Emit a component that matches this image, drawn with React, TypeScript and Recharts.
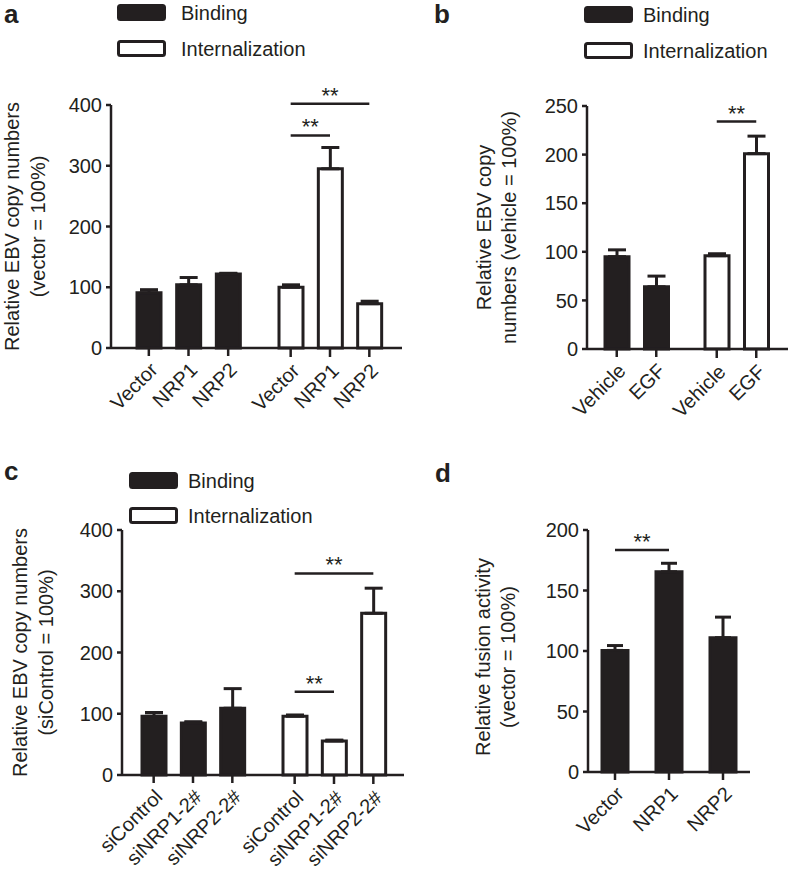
import React from "react";
import { BarChart, Bar, XAxis, YAxis, ErrorBar, ReferenceLine } from "recharts";

const INK = "#231f20";
const FONT = '"Liberation Sans", Arial, Helvetica, sans-serif';

const seriesNames = ["Binding", "Internalization"];

// panel a
const groupsA = ["Vector", "NRP1", "NRP2"];
const bindingA = [91, 104, 122];
const bindingErrA = [5, 12, 1];
const internalA = [100, 295, 73];
const internalErrA = [4, 35, 4];
const ticksA = [0, 100, 200, 300, 400];
const sigA = [
  { from: "Vector", to: "NRP2", y: 402 },
  { from: "Vector", to: "NRP1", y: 350 },
];

// panel b
const groupsB = ["Vehicle", "EGF"];
const bindingB = [95, 64];
const bindingErrB = [7, 11];
const internalB = [96, 201];
const internalErrB = [2, 18];
const ticksB = [0, 50, 100, 150, 200, 250];
const sigB = [{ from: "Vehicle", to: "EGF", y: 234 }];

// panel c
const groupsC = ["siControl", "siNRP1-2#", "siNRP2-2#"];
const bindingC = [96, 85, 109];
const bindingErrC = [6, 2, 32];
const internalC = [96, 55.5, 264];
const internalErrC = [2, 1.5, 41];
const ticksC = [0, 100, 200, 300, 400];
const sigC = [
  { from: "siControl", to: "siNRP2-2#", y: 329 },
  { from: "siControl", to: "siNRP1-2#", y: 136 },
];

// panel d
const groupsD = ["Vector", "NRP1", "NRP2"];
const fusionD = [100.5, 165.5, 111];
const fusionErrD = [4, 7, 17];
const ticksD = [0, 50, 100, 150, 200];
const sigD = [{ from: "Vector", to: "NRP1", y: 183.5 }];

const makeRows = (g: string[], b: number[], be: number[], n: number[], ne: number[]) =>
  g.map((name, i) => ({
    name,
    binding: b[i],
    bindingErr: [0, be[i]],
    internal: n[i],
    internalErr: [0, ne[i]],
  }));

function YTitle({ viewBox, lines, xs, dy = 0 }: any) {
  const cy = (viewBox ? viewBox.y + viewBox.height / 2 : 0) + dy;
  return (
    <g>
      {lines.map((t: string, i: number) => (
        <text
          key={i}
          x={xs[i]}
          y={cy}
          transform={`rotate(-90 ${xs[i]} ${cy})`}
          textAnchor="middle"
          dominantBaseline="central"
          fontSize={20}
          fill={INK}
        >
          {t}
        </text>
      ))}
    </g>
  );
}

function SeriesKey({ left, top, gap, row }: { left: number; top: number; gap: number; row: number }) {
  return (
    <div style={{ position: "absolute", left, top }}>
      {seriesNames.map((s, i) => (
        <div key={s} style={{ display: "flex", alignItems: "center", height: row }}>
          <svg width={50} height={18} style={{ display: "block" }}>
            <rect x={1.5} y={1.5} width={46} height={14} rx={2} fill={i === 0 ? INK : "#fff"} stroke={INK} strokeWidth={3} />
          </svg>
          <span style={{ marginLeft: gap, fontSize: 20, color: INK, lineHeight: 1 }}>{s}</span>
        </div>
      ))}
    </div>
  );
}

const tickStyle = { fill: INK, fontSize: 20 };
const starLabel = { value: "**", position: "top" as const, offset: 1, fill: INK, fontSize: 22 };

function GroupPanel(p: any) {
  const yMax = p.ticks[p.ticks.length - 1];
  return (
    <div style={{ position: "absolute", left: p.left, top: p.top }}>
      <BarChart width={p.width} height={p.height} data={p.rows} margin={p.margin} barSize={24}>
        <YAxis
          domain={[0, yMax]}
          ticks={p.ticks}
          width={p.yWidth}
          tickSize={5}
          tickMargin={4}
          tick={tickStyle}
          axisLine={{ stroke: INK, strokeWidth: 2.5 }}
          tickLine={{ stroke: INK, strokeWidth: 2.5 }}
          label={<YTitle lines={p.title} xs={p.titleX} dy={p.titleDy || 0} />}
        />
        <XAxis
          xAxisId="bind"
          dataKey="name"
          height={1}
          padding={p.bindPad}
          interval={0}
          angle={-45}
          textAnchor="end"
          tickSize={8}
          tickMargin={5}
          tick={tickStyle}
          axisLine={{ stroke: INK, strokeWidth: 2.5 }}
          tickLine={{ stroke: INK, strokeWidth: 2.5 }}
        />
        <XAxis
          xAxisId="int"
          dataKey="name"
          height={1}
          padding={p.intPad}
          interval={0}
          angle={-45}
          textAnchor="end"
          tickSize={8}
          tickMargin={5}
          tick={tickStyle}
          axisLine={false}
          tickLine={{ stroke: INK, strokeWidth: 2.5 }}
        />
        <Bar xAxisId="bind" dataKey="binding" name={seriesNames[0]} fill={INK} stroke={INK} strokeWidth={3} isAnimationActive={false}>
          <ErrorBar dataKey="bindingErr" direction="y" width={9} stroke={INK} strokeWidth={3} isAnimationActive={false} />
        </Bar>
        <Bar xAxisId="int" dataKey="internal" name={seriesNames[1]} fill="#fff" stroke={INK} strokeWidth={3} isAnimationActive={false}>
          <ErrorBar dataKey="internalErr" direction="y" width={9} stroke={INK} strokeWidth={3} isAnimationActive={false} />
        </Bar>
        {p.sig.map((s: any, i: number) => (
          <ReferenceLine
            key={i}
            xAxisId="int"
            segment={[{ x: s.from, y: s.y }, { x: s.to, y: s.y }]}
            stroke={INK}
            strokeWidth={2.5}
            ifOverflow="visible"
            label={starLabel}
          />
        ))}
      </BarChart>
    </div>
  );
}

function FusionPanel() {
  const rows = groupsD.map((name, i) => ({ name, fusion: fusionD[i], fusionErr: [0, fusionErrD[i]] }));
  return (
    <div style={{ position: "absolute", left: 400, top: 430 }}>
      <BarChart width={388} height={446} data={rows} margin={{ top: 100, right: 38, left: 0, bottom: 103 }} barSize={26}>
        <YAxis
          domain={[0, 200]}
          ticks={ticksD}
          width={188}
          tickSize={5}
          tickMargin={4}
          tick={tickStyle}
          axisLine={{ stroke: INK, strokeWidth: 2.5 }}
          tickLine={{ stroke: INK, strokeWidth: 2.5 }}
          label={<YTitle lines={["Relative fusion activity", "(vector = 100%)"]} xs={[83, 108]} dy={6} />}
        />
        <XAxis
          dataKey="name"
          height={1}
          interval={0}
          angle={-45}
          textAnchor="end"
          tickSize={8}
          tickMargin={5}
          tick={tickStyle}
          axisLine={{ stroke: INK, strokeWidth: 2.5 }}
          tickLine={{ stroke: INK, strokeWidth: 2.5 }}
        />
        <Bar dataKey="fusion" fill={INK} stroke={INK} strokeWidth={3} isAnimationActive={false}>
          <ErrorBar dataKey="fusionErr" direction="y" width={8} stroke={INK} strokeWidth={3} isAnimationActive={false} />
        </Bar>
        {sigD.map((s, i) => (
          <ReferenceLine
            key={i}
            segment={[{ x: s.from, y: s.y }, { x: s.to, y: s.y }]}
            stroke={INK}
            strokeWidth={2.5}
            ifOverflow="visible"
            label={starLabel}
          />
        ))}
      </BarChart>
    </div>
  );
}

const letterStyle: React.CSSProperties = {
  position: "absolute",
  fontWeight: "bold",
  fontSize: 26,
  color: INK,
  lineHeight: 1,
};

export default function App() {
  return (
    <div style={{ position: "absolute", left: 0, top: 0, width: 788, height: 876, background: "#fff", fontFamily: FONT, overflow: "hidden" }}>
      <GroupPanel
        left={0}
        top={0}
        width={410}
        height={430}
        margin={{ top: 105, right: 8, left: 0, bottom: 80 }}
        yWidth={111}
        ticks={ticksA}
        rows={makeRows(groupsA, bindingA, bindingErrA, internalA, internalErrA)}
        bindPad={{ left: 18, right: 154 }}
        intPad={{ left: 160, right: 13 }}
        sig={sigA}
        title={["Relative EBV copy numbers", "(vector = 100%)"]}
        titleX={[12, 38]}
      />
      <GroupPanel
        left={400}
        top={0}
        width={388}
        height={430}
        margin={{ top: 106, right: 0, left: 0, bottom: 79 }}
        yWidth={187}
        ticks={ticksB}
        rows={makeRows(groupsB, bindingB, bindingErrB, internalB, internalErrB)}
        bindPad={{ left: 10, right: 112 }}
        intPad={{ left: 110, right: 12 }}
        sig={sigB}
        title={["Relative EBV copy", "numbers (vehicle = 100%)"]}
        titleX={[84, 109]}
      />
      <GroupPanel
        left={0}
        top={430}
        width={410}
        height={446}
        margin={{ top: 100, right: 6, left: 0, bottom: 99 }}
        yWidth={122}
        ticks={ticksC}
        rows={makeRows(groupsC, bindingC, bindingErrC, internalC, internalErrC)}
        bindPad={{ left: 12, right: 152 }}
        intPad={{ left: 153, right: 11 }}
        sig={sigC}
        title={["Relative EBV copy numbers", "(siControl = 100%)"]}
        titleX={[20, 46]}
      />
      <FusionPanel />
      <SeriesKey left={117} top={-5} gap={14} row={36} />
      <SeriesKey left={584} top={-3} gap={9} row={36} />
      <SeriesKey left={129} top={463} gap={9} row={35} />
      <div style={{ ...letterStyle, left: 4, top: 1 }}>a</div>
      <div style={{ ...letterStyle, left: 434, top: 1 }}>b</div>
      <div style={{ ...letterStyle, left: 4, top: 458 }}>c</div>
      <div style={{ ...letterStyle, left: 435, top: 460 }}>d</div>
    </div>
  );
}
